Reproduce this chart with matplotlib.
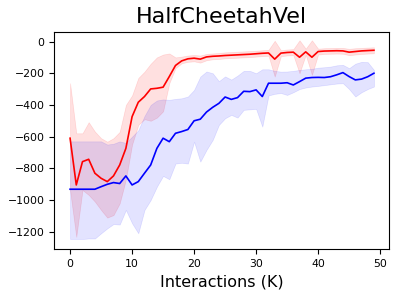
import numpy as np
import matplotlib
matplotlib.use("Agg")
import matplotlib.pyplot as plt

############ Data ############
steps = np.arange(50)  # interactions in K

red_mean = [-610, -905, -758, -743, -831, -863, -884, -848, -779, -674,
            -474, -383, -347, -299, -295, -288, -221, -151, -122, -109,
            -105, -111, -97, -93, -91, -88, -86, -84, -82, -80,
            -77, -74, -72, -111, -73, -69, -67, -99, -65, -99,
            -63, -60, -59, -58, -59, -67, -63, -59, -57, -55]
red_upper = [-263, -579, -579, -509, -568, -610, -632, -610, -570, -400,
             -340, -230, -190, -140, -100, -82, -75, -100, -95, -88,
             -85, -88, -78, -75, -72, -68, -66, -64, -62, -60,
             -58, -55, -52, 5, -55, -50, -48, 8, -45, 8,
             -45, -42, -41, -40, -40, -46, -42, -40, -38, -36]
red_lower = [-940, -1232, -937, -968, -1010, -1063, -1111, -1095, -1021, -870,
             -650, -526, -490, -500, -480, -440, -263, -168, -137, -128,
             -125, -133, -118, -112, -110, -106, -104, -102, -100, -98,
             -95, -92, -90, -221, -92, -88, -86, -200, -84, -210,
             -82, -78, -77, -76, -77, -86, -82, -78, -76, -74]

blue_mean = [-932, -932, -932, -932, -932, -916, -901, -890, -896, -848,
             -905, -884, -831, -779, -674, -610, -632, -579, -568, -555,
             -500, -490, -445, -415, -390, -350, -365, -354, -314, -316,
             -305, -347, -263, -263, -263, -260, -274, -253, -231, -227,
             -226, -227, -222, -210, -196, -221, -242, -237, -222, -200]
blue_upper = [-630, -630, -630, -630, -630, -630, -650, -645, -630, -640,
              -600, -560, -470, -400, -372, -365, -368, -362, -358, -347,
              -305, -221, -189, -200, -250, -220, -240, -215, -185, -185,
              -200, -175, -175, -185, -190, -189, -185, -179, -175, -172,
              -165, -162, -158, -150, -147, -168, -140, -128, -130, -179]
blue_lower = [-1246, -1246, -1246, -1243, -1243, -1210, -1179, -1152, -1155, -1063,
              -1147, -1210, -1063, -1000, -916, -848, -869, -770, -765, -770,
              -632, -758, -684, -621, -526, -484, -463, -480, -431, -428,
              -425, -537, -340, -330, -325, -337, -320, -300, -290, -284,
              -280, -275, -270, -265, -263, -300, -347, -320, -300, -284]

############ Plot ############
fig = plt.figure(figsize=(3.99, 2.95), dpi=100)
ax = fig.add_axes([0.136, 0.155, 0.840, 0.738])

ax.fill_between(steps, red_lower, red_upper, color="red", alpha=0.12, linewidth=0.5)
ax.fill_between(steps, blue_lower, blue_upper, color="blue", alpha=0.11, linewidth=0.5)
ax.plot(steps, red_mean, color="red", linewidth=1.2)
ax.plot(steps, blue_mean, color="blue", linewidth=1.2)

ax.set_xlim(-2.55, 51.5)
ax.set_ylim(-1311, 63)
ax.set_xticks([0, 10, 20, 30, 40, 50])
ax.set_yticks([0, -200, -400, -600, -800, -1000, -1200])
ax.tick_params(labelsize=7.8)

ax.set_title("HalfCheetahVel", fontsize=16)
ax.set_xlabel("Interactions (K)", fontsize=11.5)

fig.savefig("out.png", dpi=100)
